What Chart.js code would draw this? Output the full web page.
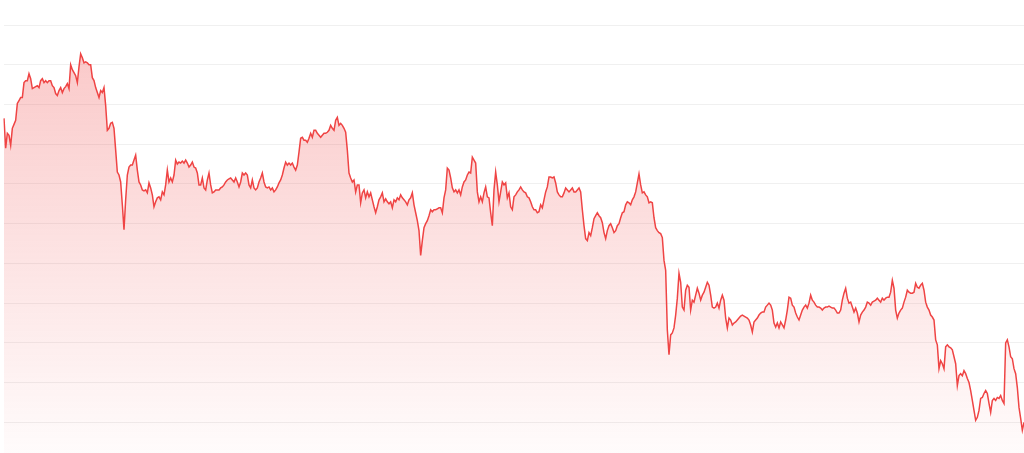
<!DOCTYPE html>
<html>
<head>
<meta charset="utf-8">
<script src="https://cdn.jsdelivr.net/npm/chart.js@4"></script>
<style>
  html, body { margin: 0; padding: 0; background: #fff; }
  #wrap { width: 1024px; height: 453px; position: relative; }
</style>
</head>
<body>
<div id="wrap"><canvas id="priceChart"></canvas></div>
<script>
// Price series in four stretches (left to right)
const part1 = [346,316,331,329,319,336,340,344,361,364,367,367,382,384,384,391,386,376,377,378,379,377,384,386,382,384,382,384,384,379,377,371,369,374,377,372,376,378,381,376,400,395,392,389,382,398,411,407,402,403,402,400,400,387,384,377,372,367,374,372,377,359,334,336,341,342,336,314,292,289,282,259,234,264,289,297,299,299,304,309,294,282,279,274,273,274,271,281,276,269,257,262,266,267,264,272,269,279,294,282,286,282,289,304,300,302,301,303,301,304,301,297,299,302,297,296,291,279,279,286,276,274,284,291,279,271,272,274,274,274,276,277,279,282,284,285,286,284,282,286,282,277,282,291,289,291,289,279,276,284,276,274];

const part2 = [276,282,286,291,282,277,276,277,274,276,272,274,277,281,284,289,296,302,299,301,299,301,297,294,299,312,326,327,324,324,322,326,331,327,334,334,331,329,327,329,331,331,332,334,339,336,334,344,347,339,341,339,336,332,314,291,286,282,284,272,279,279,261,271,274,266,272,267,271,264,257,251,257,264,267,271,262,265,262,260,262,256,264,262,266,264,269,266,264,262,259,264,266,271,259,251,243,233,208,223,236,240,243,248,254,252,254,254,255,256,256,251,266,274,296,294,286,276,272,274,271,274,269,277,282,284,289,292,291,307,304,301,272,262,267,262,271,277,267,266,251,238,274,292,279,262,272,282,279,281,266,271,257];

const part3 = [254,267,269,272,274,277,274,272,271,267,266,262,257,254,254,251,252,259,256,264,272,277,287,287,286,287,281,272,269,267,267,271,276,274,272,274,276,272,272,274,276,272,254,238,225,223,231,228,236,245,248,251,248,246,241,231,225,233,238,240,236,231,233,238,240,246,251,252,259,262,261,259,264,267,272,281,290,279,271,272,269,267,261,262,261,246,236,233,231,230,226,203,193,133,108,128,130,135,148,165,190,181,156,153,173,178,176,153,163,161,168,175,170,163,168,171,176,181,178,168,156,155,156,160,155,163,168,163,145,135,145,143,138,140,141,143,145,147,148,147,146,145,143,138,131,141,143,145,148,150,151,151,156,158];

const part4 = [160,158,153,140,136,140,135,141,138,135,143,153,166,165,158,156,150,146,143,148,153,156,158,155,160,168,163,161,158,156,156,155,153,155,156,156,157,156,155,155,153,150,150,153,163,170,175,165,160,161,156,151,155,150,141,148,151,153,156,161,160,158,161,162,163,165,163,161,165,163,165,166,166,171,183,175,153,145,150,153,155,161,166,173,171,170,170,171,180,176,175,178,180,173,161,156,153,148,146,143,123,118,94,102,99,94,116,118,116,115,113,106,99,77,87,89,87,92,89,84,80,72,62,52,42,45,52,64,65,69,72,69,59,50,62,64,62,65,64,67,62,59,120,123,116,106,104,94,89,75,55,44,32,40];

const prices = part1.concat(part2, part3, part4);
const labels = prices.map((_, i) => i + 1);

// y axis range and grid step (no tick labels shown)
const yMin = 9.1;
const yMax = 465.2;
const yStep = 40;

const lineColor = '#ef4444';

function fillGradient(context) {
    const chart = context.chart;
    const area = chart.chartArea;
    if (!area) return 'rgba(239,68,68,0.2)';
    const g = chart.ctx.createLinearGradient(0, area.top, 0, area.bottom);
    g.addColorStop(0, 'rgba(239,68,68,0.32)');
    g.addColorStop(0.5, 'rgba(239,68,68,0.17)');
    g.addColorStop(1, 'rgba(239,68,68,0.02)');
    return g;
}

const config = {
    type: 'line',
    data: {
        labels: labels,
        datasets: [{
            data: prices,
            borderColor: lineColor,
            borderWidth: 1.5,
            backgroundColor: fillGradient,
            fill: 'start',
            pointRadius: 0,
            tension: 0,
        }]
    },
    options: {
        responsive: true,
        maintainAspectRatio: false,
        animation: false,
        layout: {
            padding: { left: 4, right: 0, top: 0, bottom: 0 }
        },
        plugins: {
            legend: { display: false },
            tooltip: { enabled: false },
        },
        scales: {
            x: {
                display: false,
            },
            y: {
                min: yMin,
                max: yMax,
                ticks: {
                    display: false,
                    stepSize: yStep,
                    maxTicksLimit: 20,
                    includeBounds: false,
                },
                grid: {
                    color: 'rgba(0,0,0,0.06)',
                    drawTicks: false,
                },
                border: { display: false },
            }
        }
    }
};

const ctx = document.querySelector('#priceChart');
let priceChart = new Chart(ctx, config);
</script>
</body>
</html>
